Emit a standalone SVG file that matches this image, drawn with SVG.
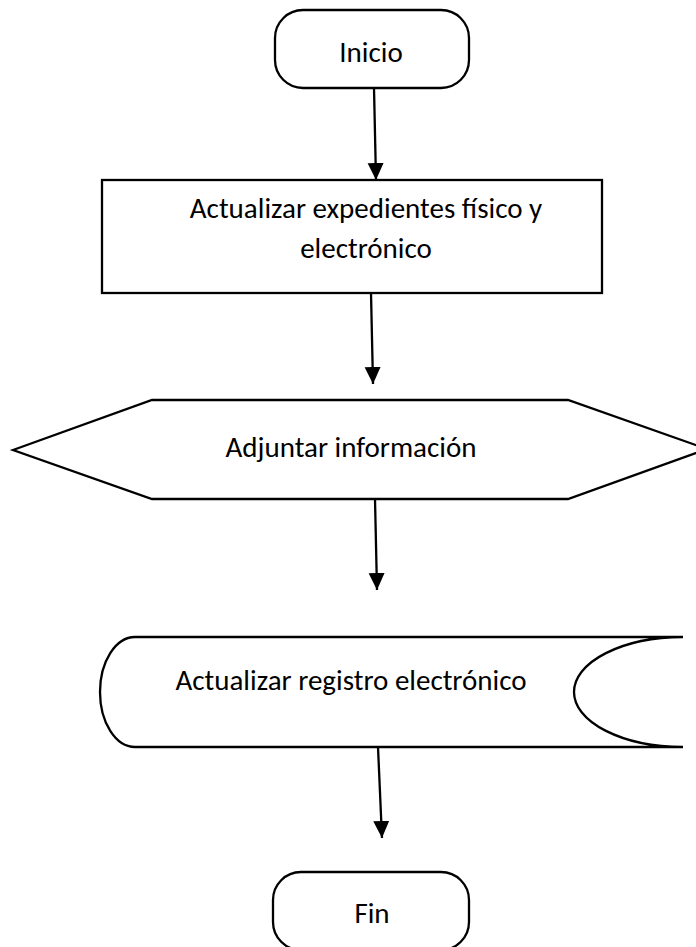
<svg xmlns="http://www.w3.org/2000/svg" width="696" height="947" viewBox="0 0 696 947">
  <style>
    .shape { fill: #ffffff; stroke: #000000; stroke-width: 2.3; }
    .conn { fill: none; stroke: #000000; stroke-width: 2.3; }
    .lbl { font-family: Carlito, Lato, "Open Sans", sans-serif; font-size: 29px; fill: #000000; text-anchor: middle; }
  </style>
  <defs>
    <marker id="arrow" markerUnits="userSpaceOnUse" markerWidth="17" markerHeight="18" refX="17" refY="8" orient="auto">
      <path d="M0,0 L17,8 L0,16 Z" fill="#000000"/>
    </marker>
  </defs>
  <rect width="696" height="947" fill="#ffffff"/>

  <g id="connectors">
    <line class="conn" x1="374" y1="88" x2="376" y2="180" marker-end="url(#arrow)"/>
    <line class="conn" x1="371" y1="293" x2="373" y2="384" marker-end="url(#arrow)"/>
    <line class="conn" x1="375" y1="499" x2="377" y2="590" marker-end="url(#arrow)"/>
    <line class="conn" x1="378" y1="747" x2="382" y2="838" marker-end="url(#arrow)"/>
  </g>

  <g id="inicio">
    <rect class="shape" x="275" y="10" width="194" height="78" rx="28" ry="28"/>
    <text class="lbl" x="371" y="62">Inicio</text>
  </g>

  <g id="actualizar-expedientes">
    <rect class="shape" x="102" y="180" width="500" height="113"/>
    <text class="lbl" x="366" y="218">Actualizar expedientes físico y</text>
    <text class="lbl" x="366" y="258">electrónico</text>
  </g>

  <g id="adjuntar">
    <polygon class="shape" points="13,450 152,400 568,400 707,449 568,499 152,499"/>
    <text class="lbl" x="351" y="457">Adjuntar información</text>
  </g>

  <g id="registro">
    <path class="shape" d="M135,637 L683,637 A109,55 0 0 0 683,747 L135,747 A35,55 0 0 1 135,637 Z"/>
    <text class="lbl" x="351" y="690">Actualizar registro electrónico</text>
  </g>

  <g id="fin">
    <rect class="shape" x="273" y="872" width="196" height="78" rx="28" ry="28"/>
    <text class="lbl" x="372" y="923">Fin</text>
  </g>
</svg>
